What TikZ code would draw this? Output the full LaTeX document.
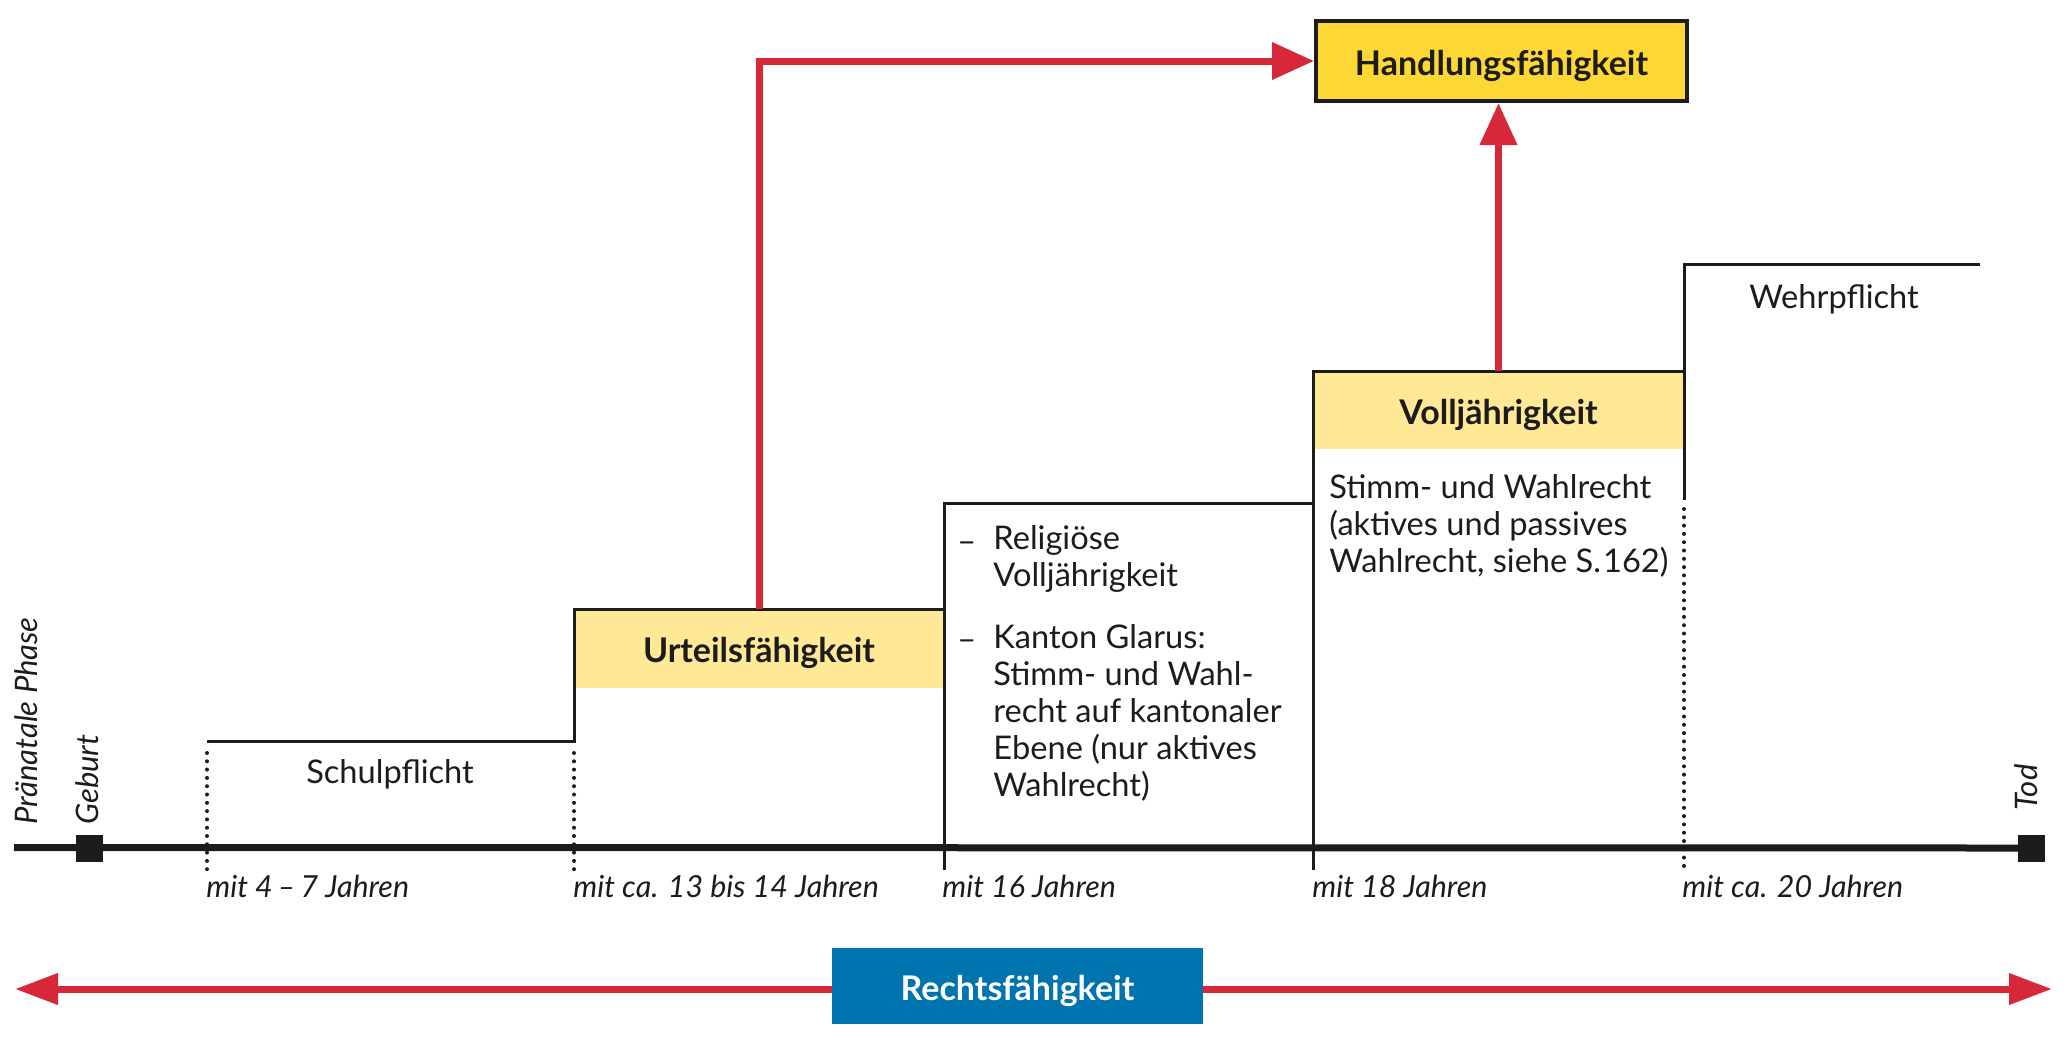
\documentclass[tikz,border=0pt]{standalone}
\usepackage{fontspec}
\setmainfont{Lato}
\usetikzlibrary{arrows.meta}
\definecolor{rred}{RGB}{214,40,57}
\definecolor{gold}{RGB}{253,216,53}
\definecolor{lightyel}{RGB}{255,232,150}
\definecolor{rblue}{RGB}{0,116,175}
\definecolor{ink}{RGB}{28,28,28}
\tikzset{
  stepline/.style={draw=ink, line width=1.5pt, line join=miter},
  dotline/.style={draw=ink, line width=2pt, line cap=round, dash pattern=on 0pt off 4.15pt},
  redarrow/.style={draw=rred, line width=3.5pt, -{Triangle[length=21pt,width=18pt]}},
  boldlabel/.style={inner sep=0pt, font=\fontsize{17}{20}\selectfont\bfseries, text height=14pt, text depth=0pt},
  band/.style={boldlabel, fill=lightyel, text=ink},
  bodytext/.style={inner sep=0pt, font=\fontsize{16.3}{18.5}\selectfont, text=ink},
  agetext/.style={inner sep=0pt, font=\fontsize{15.2}{18}\selectfont\itshape, text=ink, anchor=base west},
  sidetext/.style={inner sep=0pt, font=\fontsize{15.5}{18}\selectfont\itshape, text=ink, anchor=base west, rotate=90},
  marker/.style={fill=ink, inner sep=0pt, minimum size=13.5pt},
}
\begin{document}
\begin{tikzpicture}[x=0.5pt,y=-0.5pt]
\useasboundingbox (0,0) rectangle (2067,1051);
% yellow bands
\node[band, minimum width=185pt, minimum height=39.5pt] (urteil) at (759,648.5) {Urteilsfähigkeit};
\node[band, minimum width=185.5pt, minimum height=39pt] (voll) at (1498.5,410) {Volljährigkeit};
% top box
\node[boldlabel, fill=gold, draw=ink, line width=2pt, minimum width=185.5pt, minimum height=40pt, text=ink]
  (handlung) at (1501.5,61) {Handlungsfähigkeit};
% step outline
\draw[stepline] (207,741) -- (574,741) -- (574,609) -- (944,609) -- (944,503) -- (1313,503)
   -- (1313,371) -- (1684,371) -- (1684,264) -- (1980,264);
\draw[stepline] (944,503) -- (944,870);
\draw[stepline] (1313,371) -- (1313,870);
\draw[stepline] (1684,371) -- (1684,500);
% timeline
\coordinate (tlstart) at (14,847.5);
\node[marker] (geburt) at (89,848) {};
\node[marker] (tod) at (2031,848) {};
\draw[draw=ink, line width=3.5pt] (tlstart) -- (tod.center);
% dotted lines
\draw[dotline] (207,753) -- (207,872);
\draw[dotline] (574,753) -- (574,872);
\draw[dotline] (1684,509) -- (1684,872);
% texts
\node[bodytext, anchor=base] (schul) at (390,783) {Schulpflicht};
\node[bodytext, anchor=base] (wehr) at (1834,308) {Wehrpflicht};
\node[bodytext, anchor=base west] (dash1) at (957,552) {–};
\node[bodytext, anchor=base west] (dash2) at (957,650) {–};
\node[bodytext, anchor=base west, align=left] (relig) at (993,796)
  {Religiöse\\Volljährigkeit\\[12.5pt]Kanton Glarus:\\Stimm- und Wahl-\\recht auf kantonaler\\Ebene (nur aktives\\Wahlrecht)};
\node[bodytext, anchor=base west, align=left] (stimm) at (1329,572)
  {Stimm- und Wahlrecht\\(aktives und passives\\Wahlrecht, siehe S.\kern1pt162)};
% age labels
\node[agetext] (a1) at (206,897) {mit 4\,–\,7 Jahren};
\node[agetext] (a2) at (573,897) {mit ca. 13 bis 14 Jahren};
\node[agetext] (a3) at (942,897) {mit 16 Jahren};
\node[agetext] (a4) at (1312,897) {mit 18 Jahren};
\node[agetext] (a5) at (1682,897) {mit ca. 20 Jahren};
% side labels
\node[sidetext] (praen) at (37,825) {Pränatale Phase};
\node[sidetext] (geblab) at (98,825) {Geburt};
\node[sidetext] (todlab) at (2037,811) {Tod};
% Rechtsfaehigkeit
\node[boldlabel, fill=rblue, minimum width=185.5pt, minimum height=38pt, text=white]
  (recht) at (1017.5,986) {Rechtsfähigkeit};
\coordinate (rleft) at (15,989);
\coordinate (rright) at (2052,989);
\draw[draw=rred, line width=3.5pt, -{Triangle[length=21.5pt,width=15pt]}] (recht.west |- rleft) -- (rleft);
\draw[draw=rred, line width=3.5pt, -{Triangle[length=21.5pt,width=15pt]}] (recht.east |- rright) -- (rright);
% red arrows up
\draw[redarrow] (urteil.north) |- (handlung.west);
\draw[redarrow] (voll.north) -- (voll.north |- handlung.south);
\end{tikzpicture}
\end{document}
